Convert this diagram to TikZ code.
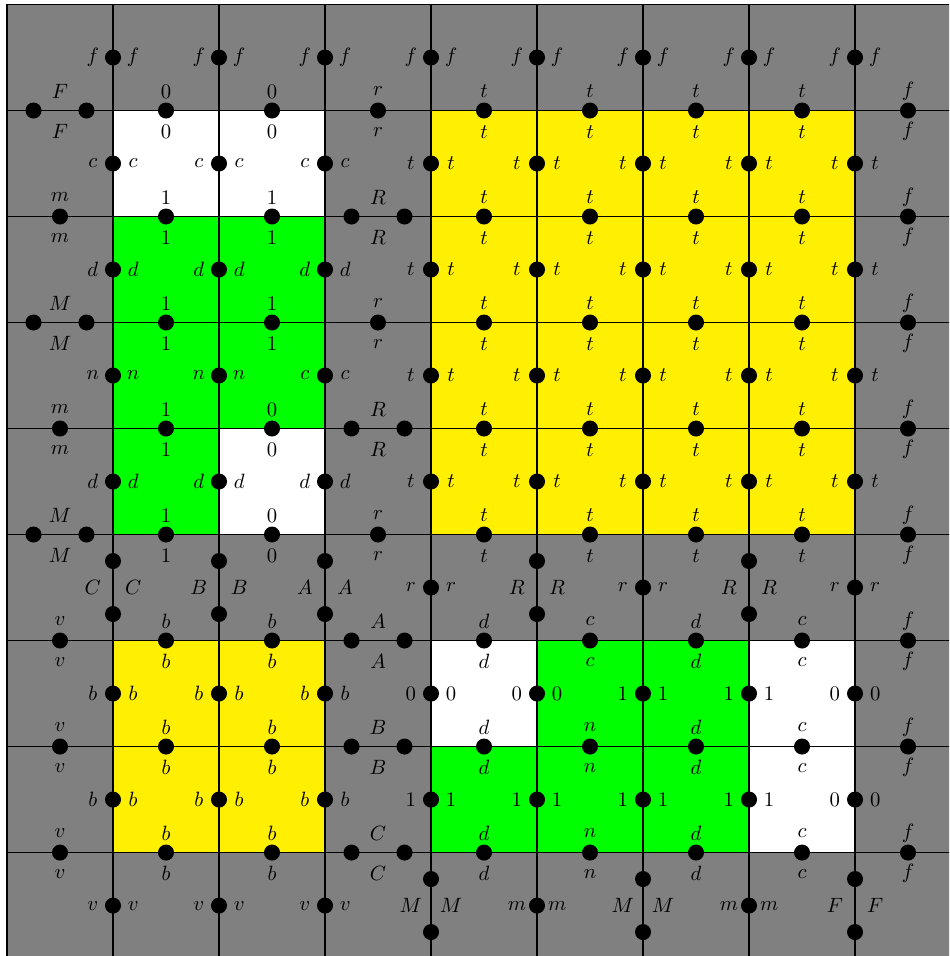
\documentclass[tikz,border=0pt]{standalone}
\definecolor{gridgrey}{RGB}{128,128,128}
\definecolor{cellyellow}{RGB}{255,239,0}
\definecolor{cellgreen}{RGB}{0,255,0}
\tikzset{
  dot/.style={circle,fill=black,inner sep=0pt,minimum size=2.72mm},
  lab/.style={inner sep=0pt,anchor=center},
  gridline/.style={line width=0.6pt,black}
}
% labels above/below a horizontal edge: col, line, label
\newcommand\hedgelabels[3]{%
  \node[lab] (h-#1-#2-u) at (#1+0.5,-#2+0.18) {$#3$};
  \node[lab] (h-#1-#2-d) at (#1+0.5,-#2-0.2) {$#3$};}
% single dot on a horizontal edge
\newcommand\hedgedot[3]{\node[dot] (h-#1-#2) at (#1+0.5,-#2) {};\hedgelabels{#1}{#2}{#3}}
% two dots on a horizontal edge
\newcommand\hedgesplit[3]{%
  \node[dot] (h-#1-#2-a) at (#1+0.25,-#2) {};
  \node[dot] (h-#1-#2-b) at (#1+0.75,-#2) {};
  \hedgelabels{#1}{#2}{#3}}
% labels left/right of a vertical edge: line, row, label
\newcommand\vedgelabels[3]{%
  \node[lab] (v-#1-#2-l) at (#1-0.19,-#2-0.5) {$#3$};
  \node[lab] (v-#1-#2-r) at (#1+0.19,-#2-0.5) {$#3$};}
\newcommand\vedgedot[3]{\node[dot] (v-#1-#2) at (#1,-#2-0.5) {};\vedgelabels{#1}{#2}{#3}}
\newcommand\vedgesplit[3]{%
  \node[dot] (v-#1-#2-a) at (#1,-#2-0.25) {};
  \node[dot] (v-#1-#2-b) at (#1,-#2-0.75) {};
  \vedgelabels{#1}{#2}{#3}}
\begin{document}
\begin{tikzpicture}[x=1.8cm,y=1.8cm]
\useasboundingbox (-0.066,0.0425) rectangle (8.887,-8.976);
\clip (-0.066,0.0425) rectangle (8.887,-8.976);
\fill[gridgrey] (0,0) rectangle (9.5,-9.5);
% white cells
\fill[white] (1,-1) rectangle (3,-2);
\fill[white] (2,-4) rectangle (3,-5);
\fill[white] (4,-6) rectangle (5,-7);
\fill[white] (7,-6) rectangle (8,-8);
% green cells
\fill[cellgreen] (1,-2) rectangle (3,-4);
\fill[cellgreen] (1,-4) rectangle (2,-5);
\fill[cellgreen] (5,-6) rectangle (7,-7);
\fill[cellgreen] (4,-7) rectangle (7,-8);
% yellow cells
\fill[cellyellow] (4,-1) rectangle (8,-5);
\fill[cellyellow] (1,-6) rectangle (3,-8);
% grid
\draw[gridline] (0,-9.5) -- (0,0) -- (9.5,0);
\foreach \i in {1,...,8} {
  \draw[gridline] (\i,0) -- (\i,-9.5);
  \draw[gridline] (0,-\i) -- (9.5,-\i);
}
% horizontal edges
\hedgesplit{0}{1}{F}
\foreach \c/\lab in {1/0,2/0,3/r,4/t,5/t,6/t,7/t,8/f} {\hedgedot{\c}{1}{\lab}}
\foreach \c/\lab in {0/m,1/1,2/1,4/t,5/t,6/t,7/t,8/f} {\hedgedot{\c}{2}{\lab}}
\hedgesplit{3}{2}{R}
\hedgesplit{0}{3}{M}
\foreach \c/\lab in {1/1,2/1,3/r,4/t,5/t,6/t,7/t,8/f} {\hedgedot{\c}{3}{\lab}}
\foreach \c/\lab in {0/m,1/1,2/0,4/t,5/t,6/t,7/t,8/f} {\hedgedot{\c}{4}{\lab}}
\hedgesplit{3}{4}{R}
\hedgesplit{0}{5}{M}
\foreach \c/\lab in {1/1,2/0,3/r,4/t,5/t,6/t,7/t,8/f} {\hedgedot{\c}{5}{\lab}}
\foreach \c/\lab in {0/v,1/b,2/b,4/d,5/c,6/d,7/c,8/f} {\hedgedot{\c}{6}{\lab}}
\hedgesplit{3}{6}{A}
\foreach \c/\lab in {0/v,1/b,2/b,4/d,5/n,6/d,7/c,8/f} {\hedgedot{\c}{7}{\lab}}
\hedgesplit{3}{7}{B}
\foreach \c/\lab in {0/v,1/b,2/b,4/d,5/n,6/d,7/c,8/f} {\hedgedot{\c}{8}{\lab}}
\hedgesplit{3}{8}{C}
% vertical edges
\foreach \i in {1,...,8} {\vedgedot{\i}{0}{f}}
\foreach \i/\lab in {1/c,2/c,3/c,4/t,5/t,6/t,7/t,8/t} {\vedgedot{\i}{1}{\lab}}
\foreach \i/\lab in {1/d,2/d,3/d,4/t,5/t,6/t,7/t,8/t} {\vedgedot{\i}{2}{\lab}}
\foreach \i/\lab in {1/n,2/n,3/c,4/t,5/t,6/t,7/t,8/t} {\vedgedot{\i}{3}{\lab}}
\foreach \i/\lab in {1/d,2/d,3/d,4/t,5/t,6/t,7/t,8/t} {\vedgedot{\i}{4}{\lab}}
\vedgesplit{1}{5}{C}
\vedgesplit{2}{5}{B}
\vedgesplit{3}{5}{A}
\vedgedot{4}{5}{r}
\vedgesplit{5}{5}{R}
\vedgedot{6}{5}{r}
\vedgesplit{7}{5}{R}
\vedgedot{8}{5}{r}
\foreach \i/\lab in {1/b,2/b,3/b,4/0,5/0,6/1,7/1,8/0} {\vedgedot{\i}{6}{\lab}}
\foreach \i/\lab in {1/b,2/b,3/b,4/1,5/1,6/1,7/1,8/0} {\vedgedot{\i}{7}{\lab}}
\foreach \i/\lab in {1/v,2/v,3/v} {\vedgedot{\i}{8}{\lab}}
\vedgesplit{4}{8}{M}
\vedgedot{5}{8}{m}
\vedgesplit{6}{8}{M}
\vedgedot{7}{8}{m}
\vedgesplit{8}{8}{F}
\end{tikzpicture}
\end{document}
